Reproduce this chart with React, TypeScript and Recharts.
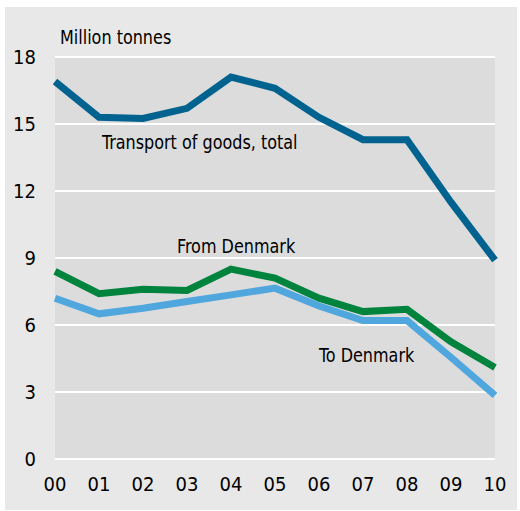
import React from 'react';
import { LineChart, Line, XAxis, YAxis, CartesianGrid } from 'recharts';

const years = ['00', '01', '02', '03', '04', '05', '06', '07', '08', '09', '10'];
const total = [16.9, 15.3, 15.25, 15.7, 17.1, 16.6, 15.3, 14.3, 14.3, 11.5, 8.9];
const fromDenmark = [8.4, 7.4, 7.6, 7.55, 8.5, 8.1, 7.2, 6.6, 6.7, 5.25, 4.1];
const toDenmark = [7.2, 6.5, 6.75, 7.05, 7.35, 7.65, 6.85, 6.2, 6.2, 4.55, 2.85];
const yTicks = [0, 3, 6, 9, 12, 15, 18];

const data = years.map((y, i) => ({
  year: y,
  total: total[i],
  from: fromDenmark[i],
  to: toDenmark[i],
}));

const font = '"DejaVu Sans Condensed", "Liberation Sans Narrow", sans-serif';
const tick = { fontSize: 20, fill: '#000', fontFamily: font };

const label = (text: string, left: number, top: number) => (
  <div
    style={{
      position: 'absolute',
      left,
      top,
      fontFamily: font,
      fontSize: 20,
      color: '#000',
      whiteSpace: 'nowrap',
      lineHeight: '20px',
      transform: 'scaleX(0.89)',
      transformOrigin: 'left center',
    }}
  >
    {text}
  </div>
);

export default function App() {
  return (
    <div style={{ position: 'absolute', left: 0, top: 0, width: 520, height: 511, background: '#fff' }}>
      <div style={{ position: 'absolute', left: 5, top: 7, width: 512, height: 503, background: '#e8e8e8' }} />
      <div style={{ position: 'absolute', left: 0, top: 0 }}>
        <LineChart width={520} height={511} data={data} margin={{ top: 57, right: 25, bottom: 12, left: 0 }}>
          <CartesianGrid vertical={false} fill="#dcdcdc" stroke="#fff" strokeWidth={2} />
          <XAxis
            dataKey="year"
            axisLine={false}
            tickLine={false}
            tickSize={0}
            tickMargin={18}
            height={40}
            tick={tick}
            interval={0}
          />
          <YAxis
            domain={[0, 18]}
            ticks={yTicks}
            axisLine={false}
            tickLine={false}
            tickSize={0}
            tickMargin={19}
            width={55}
            tick={tick}
          />
          <Line dataKey="total" stroke="#00628f" strokeWidth={7} dot={false} isAnimationActive={false} />
          <Line dataKey="from" stroke="#00843d" strokeWidth={7} dot={false} isAnimationActive={false} />
          <Line dataKey="to" stroke="#4fa7de" strokeWidth={7} dot={false} isAnimationActive={false} />
        </LineChart>
      </div>
      {label('Million tonnes', 60, 27)}
      {label('Transport of goods, total', 102, 132)}
      {label('From Denmark', 177, 236)}
      {label('To Denmark', 319, 345)}
    </div>
  );
}
